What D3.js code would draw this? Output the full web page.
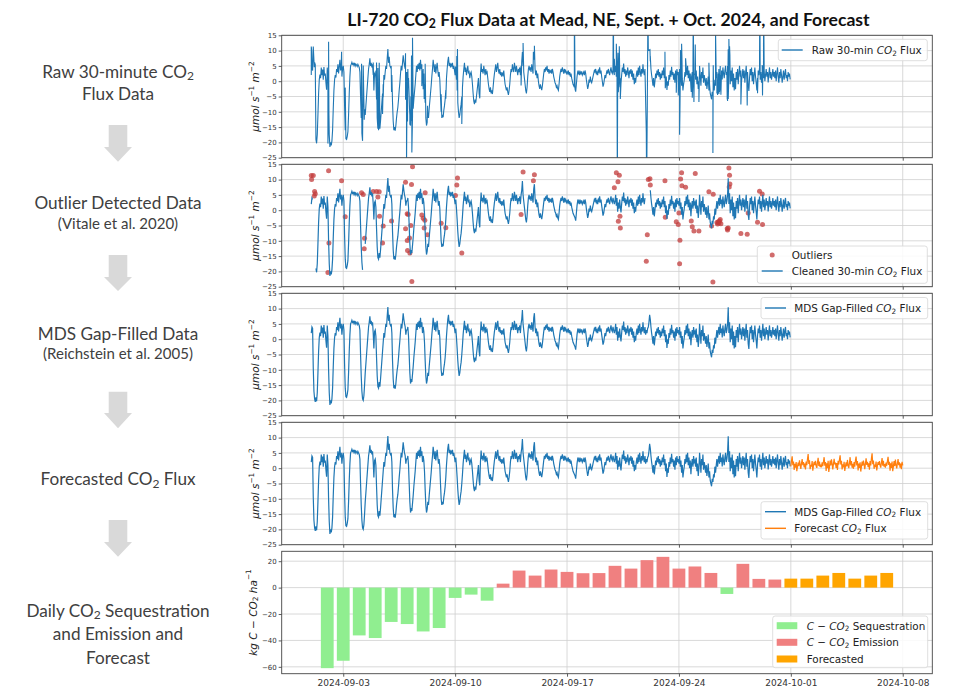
<!DOCTYPE html>
<html><head><meta charset="utf-8">
<script src="https://cdn.jsdelivr.net/npm/d3@7"></script>
<style>body{margin:0;background:#fff;} svg{display:block;}</style>
</head><body>
<svg id="c" width="954" height="689"></svg>
<script>
// ---------------- DATA ----------------
const seriesStart = "2024-09-01 00:00";   // first flux value (shown hourly)
// MDS gap-filled CO2 flux, hourly, one row per day (09-01 ... 09-30), µmol s-1 m-2
const gapFilledByDay = [
 [2.0,4.0,3.5,-9.5,-17.0,-19.5,-20.5,-19.0,-20.3,-17.5,-11.0,-4.0,0.5,2.2,1.0,4.5,2.0,3.8,0.5,4.6,1.8,2.5,-0.5,-2.8],
 [4.5,1.0,-10.0,-17.5,-21.5,-20.0,-21.0,-19.5,-16.0,-9.0,-3.0,0.5,2.0,1.2,4.0,3.0,5.5,2.5,4.8,7.0,3.5,5.0,1.5,4.0],
 [5.0,3.0,-8.0,-16.0,-18.8,-19.0,-18.0,-16.5,-11.0,-4.0,1.5,5.0,5.5,6.2,5.5,5.8,5.2,6.0,5.0,5.6,5.3,4.8,5.5,5.0],
 [4.5,3.0,-5.0,-12.0,-17.0,-19.5,-20.0,-18.5,-15.0,-11.0,-8.0,-5.0,-2.0,1.0,4.0,5.5,7.5,5.0,6.0,4.5,5.5,2.0,-3.0,2.5],
 [3.0,1.0,-6.0,-12.0,-15.5,-16.0,-14.0,-15.5,-13.0,-10.0,-7.0,-4.0,-1.0,2.0,0.5,3.0,5.0,4.0,7.5,10.5,6.0,8.0,5.0,4.5],
 [5.0,2.0,-7.0,-13.0,-16.0,-15.0,-16.2,-14.5,-12.0,-10.0,-8.5,-6.0,-3.0,-0.5,2.5,5.0,3.5,6.0,8.5,6.5,5.0,4.0,1.5,3.0],
 [3.0,4.0,1.0,-5.0,-11.0,-14.5,-13.0,-14.0,-11.5,-9.0,-6.0,-3.5,-1.0,2.0,5.0,3.0,5.5,4.0,6.0,3.5,7.0,4.0,5.5,2.0],
 [4.0,2.5,-1.0,-7.0,-12.0,-14.5,-13.5,-11.0,-12.0,-9.0,-6.5,-4.0,-1.5,1.5,4.0,7.0,5.0,3.0,5.5,2.5,4.5,6.0,3.5,1.5],
 [3.0,0.5,-5.0,-10.0,-12.0,-11.0,-11.8,-9.5,-8.0,-6.0,-3.0,1.0,4.0,6.5,8.0,5.0,6.0,4.5,5.5,5.0,6.0,4.0,5.0,3.5],
 [2.0,3.5,0.5,-3.0,-7.0,-10.0,-12.0,-11.0,-9.0,-7.5,-5.0,-2.0,1.5,4.0,6.0,3.0,4.5,2.0,3.5,5.0,2.5,3.0,1.0,2.5],
 [3.0,1.5,-1.0,-4.0,-6.5,-7.5,-6.0,-7.0,-5.0,-3.0,-1.0,1.0,-4.0,-5.6,2.0,5.8,3.0,4.0,2.5,5.0,3.5,2.0,4.0,2.6],
 [3.0,1.0,-1.0,-2.5,-3.5,-2.0,-4.0,-3.0,-4.2,-2.0,0.5,2.5,4.0,5.5,3.0,4.5,6.0,3.5,2.5,4.0,2.0,3.0,1.5,2.5],
 [2.0,3.5,1.0,-1.0,-2.0,-3.0,-2.0,-3.5,-4.5,-3.0,-1.0,2.0,4.0,3.0,5.5,4.0,3.0,6.0,4.5,3.0,5.0,3.5,2.0,4.0],
 [3.0,4.5,2.0,5.0,6.5,9.5,5.0,3.0,1.0,-1.0,-3.0,-4.0,-2.0,1.5,4.0,5.0,3.5,4.5,3.0,5.5,4.0,2.5,7.0,8.5],
 [4.0,2.0,3.5,1.0,2.5,0.0,-1.5,-2.5,-1.0,-2.0,-2.9,-1.5,0.5,2.5,4.0,3.0,4.5,3.5,5.0,3.0,4.0,2.5,3.5,3.0],
 [3.5,2.5,4.0,3.0,1.5,0.5,-0.5,-1.0,-2.0,-1.5,-2.5,-3.0,-1.0,1.5,3.0,4.0,3.0,4.5,3.5,2.5,4.0,3.0,3.5,2.5],
 [3.0,2.5,3.5,2.0,3.0,1.5,2.5,1.0,0.0,-1.0,-1.5,-2.0,-2.5,-3.4,-1.0,1.5,3.0,2.5,3.5,2.0,3.0,2.5,3.2,2.0],
 [2.5,3.0,2.0,3.5,2.5,0.5,-1.0,-2.5,-1.5,0.5,-0.5,1.5,0.0,-0.5,0.4,1.5,2.5,3.5,3.0,4.0,2.5,3.0,2.0,3.5],
 [3.0,4.5,2.5,3.5,1.5,0.0,-1.8,-1.0,0.5,2.0,1.0,2.5,3.5,2.5,4.0,3.0,2.0,3.5,4.5,3.0,2.5,4.0,3.0,2.0],
 [3.0,5.0,1.5,4.0,-0.5,2.5,0.5,3.5,1.0,-0.7,2.0,4.5,3.0,5.8,2.5,4.0,1.5,3.5,2.0,4.5,3.0,1.0,3.5,2.5],
 [4.0,1.5,3.5,0.5,2.5,-1.0,1.0,-0.5,2.0,3.5,1.5,4.5,2.0,5.0,3.0,1.5,4.0,2.5,5.5,3.0,2.0,4.0,1.5,3.0],
 [2.0,3.5,4.0,5.5,8.0,6.5,4.0,2.0,0.5,-1.5,1.0,-2.0,0.0,2.5,1.0,3.5,2.0,4.0,1.5,3.0,0.5,2.5,1.0,3.5],
 [2.0,4.5,1.0,3.0,-1.0,1.5,-2.9,0.0,-1.5,2.0,0.5,3.5,1.5,4.7,2.0,3.0,0.5,2.5,-0.5,3.5,1.0,4.0,2.0,3.0],
 [1.5,4.0,0.5,2.5,-1.5,1.0,-3.0,-1.0,0.5,3.0,1.5,4.5,2.0,5.0,1.0,3.5,0.0,2.5,-2.0,1.5,3.0,0.5,4.0,2.0],
 [2.5,0.5,3.5,-1.0,1.5,-2.5,0.0,5.0,2.0,-1.5,3.0,1.0,4.5,-0.5,2.0,0.5,-1.5,1.0,-2.5,-0.5,1.5,-3.0,-1.0,-4.0],
 [-5.0,-5.9,-3.5,-4.5,-2.0,-3.0,0.5,-1.5,1.0,3.0,0.5,2.5,4.0,1.5,5.0,2.0,3.5,0.6,4.5,2.5,1.0,3.5,5.0,2.0],
 [3.0,5.0,10.4,2.0,5.5,-1.0,3.5,0.0,4.5,-2.0,2.5,-3.0,1.0,-2.6,3.0,0.5,4.0,-1.0,2.5,5.0,1.5,3.5,0.0,2.0],
 [4.0,1.0,3.5,-0.5,2.5,5.0,0.5,3.0,-1.5,-3.2,1.0,4.0,2.0,4.5,0.0,3.0,-1.0,2.0,4.5,1.5,-0.5,-3.0,1.0,3.5],
 [2.0,4.5,0.5,3.0,-0.5,2.5,5.0,1.0,3.5,0.0,2.0,4.0,1.5,3.0,-0.4,2.5,4.5,1.0,3.0,0.5,2.0,4.0,1.5,3.0],
 [1.0,3.5,0.0,2.5,4.5,1.5,-0.5,3.0,1.0,4.0,2.0,-0.5,1.5,3.5,0.5,2.5,4.0,1.0,2.0,0.0,3.0,1.5,2.5,0.6]
];
// hours (since seriesStart) with no valid measurement
const missingHourRanges = [[3,6],[78,80],[502,508]];
// detected outliers: hour since seriesStart and value (values beyond ±25 fall off the axes)
const outlierHours = [0,0.5,3,4.5,5,6,25,26,26.5,45.5,51,75.5,78,79.5,80,93,98,100,102,102.5,107,108,120.5,
  141.5,141.6,143,144,144.1,144.5,145.5,147.5,148,149.5,150.5,151,152,166,168,169.5,170.5,171,174.5,195,202,
  216.5,218.5,219.5,226,315,318,333.5,335,395,453.5,455,458,459.5,460.5,461,462.5,463.5,464,503,503.5,504.5,
  505.5,506,508.5,509,531,531.5,548,551,552,553,553.5,554.5,556,556.5,562,570.5,572,573.5,574.5,576.5,582,
  597,601,603,603.5,607,609,610,611,612,613,614,615,624.5,625,626,627,627.5,628,628.5,645,654.5,656,670,
  673,673.5,677,677.5,679];
const outlierValues = [11.3,10.0,11.3,4.6,6.1,5.4,-20.4,12.9,-10.7,9.6,-2.1,5.7,5.1,-12.6,-9.2,6.1,6.1,4.3,6.0,-2.0,-10.7,-5.2,-3.5,
  9.1,-6.1,-28,-1.2,-9.9,-13.2,-1.4,-9.1,-14.0,-5.0,8.4,-23.3,14.2,-1.6,-2.6,-5.8,-3.3,5.7,-8.0,-4.3,-5.7,
  4.8,8.2,10.5,-14.0,-1.4,12.5,9.6,11.6,30,30,7.3,12.2,-35,9.3,-3.6,11.4,-2.0,-5.8,-16.7,-35,-8.0,
  25,10.0,10.3,8.2,9.6,-2.3,-3.8,-4.7,-0.9,-17.5,-9.8,10.2,12.2,8.0,7.5,-3.5,-5.4,25,-6.8,12.0,-6.8,
  6.0,-5.2,-23.5,5.2,16,-4.0,-4.5,-3.8,-4.2,-3.5,-3.0,-4.4,-6.0,-6.5,-5.8,13.8,7.6,11.4,8.6,-7.6,-7.9,-0.9,-3.9,
  6.2,30,5.3,-4.7,30];
// forecast CO2 flux, hourly from 2024-10-01 00:00, one row per day
const forecastStart = "2024-10-01 00:00";
const forecastByDay = [
 [0.6,2.4,3.9,1.0,2.2,-0.6,1.4,0.2,2.0,-1.0,0.6,1.8,0.7,2.6,1.2,-0.2,1.6,3.0,1.0,2.0,0.3,1.5,-0.4,2.2],
 [1.0,3.0,4.6,1.4,2.6,-0.3,1.1,0.5,2.3,-0.8,0.9,2.1,1.0,2.4,0.8,0.1,1.9,3.4,0.7,2.2,0.4,1.2,0.3,1.9],
 [0.7,2.2,3.6,0.8,2.0,-0.9,1.6,0.0,2.4,-1.2,0.4,2.5,0.9,2.9,1.4,-0.4,1.4,3.1,1.2,1.8,0.1,1.7,-0.6,2.4],
 [1.2,2.8,4.2,1.2,2.4,-0.4,1.3,0.3,2.1,-0.9,0.7,1.9,0.6,2.7,1.0,0.0,1.7,3.6,0.9,2.3,0.2,1.4,-0.2,2.0],
 [0.5,2.6,3.8,0.9,2.3,-0.7,1.5,0.1,1.9,-1.1,0.5,2.2,0.8,2.5,1.3,-0.3,1.5,3.2,1.1,2.1,0.4,1.6,-0.5,2.3],
 [0.9,3.2,4.9,1.3,2.5,-0.2,1.2,0.4,2.2,-0.7,0.8,2.0,1.1,2.3,0.9,0.2,1.8,3.3,0.8,2.4,0.5,1.3,0.2,1.8],
 [0.8,2.3,3.7,1.1,2.1,-0.8,1.6,0.1,2.2,-1.0,0.6,2.3,0.7,2.8,1.1,-0.1,1.6,3.0,1.0,1.9,0.2,1.5,-0.3,2.1],
 [0.9]
];
// daily C-CO2 balance (kg C-CO2 ha-1)
const dailyDates = ["2024-09-02","2024-09-03","2024-09-04","2024-09-05","2024-09-06","2024-09-07","2024-09-08",
  "2024-09-09","2024-09-10","2024-09-11","2024-09-12","2024-09-13","2024-09-14","2024-09-15","2024-09-16",
  "2024-09-17","2024-09-18","2024-09-19","2024-09-20","2024-09-21","2024-09-22","2024-09-23","2024-09-24",
  "2024-09-25","2024-09-26","2024-09-27","2024-09-28","2024-09-29","2024-09-30"];
const dailyValues = [-61.0,-55.4,-36.2,-38.2,-26.0,-27.6,-33.2,-30.6,-7.8,-5.3,-9.9,3.0,12.9,9.1,13.7,
  11.9,10.9,11.0,16.5,14.4,20.8,23.3,14.4,16.0,11.1,-4.8,18.0,6.6,6.1];
const forecastDates = ["2024-10-01","2024-10-02","2024-10-03","2024-10-04","2024-10-05","2024-10-06","2024-10-07"];
const forecastDailyValues = [6.8,6.8,9.1,11.1,6.8,9.1,11.1];
// axes
const xTickLabels = ["2024-09-03","2024-09-10","2024-09-17","2024-09-24","2024-10-01","2024-10-08"];
const fluxTicks = [-25,-20,-15,-10,-5,0,5,10,15];
const dailyTicks = [-60,-40,-20,0,20];
const xDomain = ["2024-08-30 03:36","2024-10-09 20:24"];
const fluxDomain = [-25,15];
const dailyDomain = [-65.2,27.5];

// ---------------- DRAWING ----------------
const svg = d3.select("#c");
const pDT = d3.utcParse("%Y-%m-%d %H:%M");
const pD = d3.utcParse("%Y-%m-%d");
const t0 = pDT(seriesStart), tf0 = pDT(forecastStart);
const hourToDate = (base, h) => new Date(base.getTime() + h * 3600e3);

const L = 281.7, R = 932.3, PH = 122.4;
const panelTop = i => 35.3 + 129 * i;
const x = d3.scaleUtc().domain(xDomain.map(pDT)).range([L, R]);
const tickDates = xTickLabels.map(pD);
const fmtNum = d => d < 0 ? "\u2212" + Math.abs(d) : "" + d;
const FONT = "'DejaVu Sans', sans-serif";
const blue = "#1f77b4", orange = "#ff7f0e", outC = "#c23b3b";

function rich(t, parts) {
  let shift = 0;
  parts.forEach(p => {
    const ts = t.append("tspan").text(p.t);
    if (p.i) ts.attr("font-style", "italic");
    if (p.sub) { ts.attr("font-size", "0.7em").attr("dy", (0.245 - shift) / 0.7 + "em"); shift = 0.245; }
    else if (p.sup) { ts.attr("font-size", "0.7em").attr("dy", (-0.42 - shift) / 0.7 + "em"); shift = -0.42; }
    else if (shift !== 0) { ts.attr("dy", (-shift) + "em"); shift = 0; }
  });
  return t;
}

const gap = gapFilledByDay.flat();
const isMissing = h => missingHourRanges.some(r => h >= r[0] && h <= r[1]);
const gapPts = gap.map((v, h) => ({ d: hourToDate(t0, h), v }));
const cleanPts = gap.map((v, h) => ({ d: hourToDate(t0, h), v: isMissing(h) ? NaN : v }));
const outPts = outlierHours.map((h, i) => ({ h, d: hourToDate(t0, h), v: outlierValues[i] }));
const rawPts = gap.map((v, h) => ({ h, d: hourToDate(t0, h), v })).filter(p => !isMissing(p.h))
  .concat(outPts).sort((a, b) => a.h - b.h);
const fc = forecastByDay.flat().map((v, h) => ({ d: hourToDate(tf0, h), v }));

function panel(i, yDomain, yTicks, showX) {
  const y0 = panelTop(i);
  const y = d3.scaleLinear().domain(yDomain).range([y0 + PH, y0]);
  const g = svg.append("g");
  g.append("clipPath").attr("id", "clip" + i).append("rect")
    .attr("x", L).attr("y", y0).attr("width", R - L).attr("height", PH);
  g.append("g").selectAll("line").data(tickDates).join("line")
    .attr("x1", d => x(d)).attr("x2", d => x(d)).attr("y1", y0).attr("y2", y0 + PH)
    .attr("stroke", "#cfcfcf").attr("stroke-width", 0.8);
  g.append("g").selectAll("line").data(yTicks).join("line")
    .attr("x1", L).attr("x2", R).attr("y1", d => y(d)).attr("y2", d => y(d))
    .attr("stroke", "#cfcfcf").attr("stroke-width", 0.8);
  const ya = g.append("g").attr("transform", `translate(${L},0)`)
    .call(d3.axisLeft(y).tickValues(yTicks).tickSize(3).tickPadding(2).tickFormat(fmtNum));
  ya.select(".domain").remove();
  ya.selectAll("text").attr("font-family", FONT).attr("font-size", 7).attr("fill", "#333");
  ya.selectAll("line").attr("stroke", "#333").attr("stroke-width", 0.8);
  const xa = g.append("g").attr("transform", `translate(0,${y0 + PH})`)
    .call(d3.axisBottom(x).tickValues(tickDates).tickSize(3).tickPadding(3)
      .tickFormat(showX ? d3.utcFormat("%Y-%m-%d") : () => ""));
  xa.select(".domain").remove();
  xa.selectAll("text").attr("font-family", FONT).attr("font-size", 9).attr("fill", "#333");
  xa.selectAll("line").attr("stroke", "#333").attr("stroke-width", 0.8);
  const plot = g.append("g").attr("clip-path", `url(#clip${i})`);
  return { g, y, plot, y0 };
}
function frame(p) {
  p.g.append("rect").attr("x", L).attr("y", p.y0).attr("width", R - L).attr("height", PH)
    .attr("fill", "none").attr("stroke", "#444").attr("stroke-width", 0.9);
}
function ylabel(p, parts, cx) {
  const t = p.g.append("text").attr("font-family", FONT).attr("font-size", 10.5).attr("fill", "#222")
    .attr("text-anchor", "middle").attr("dominant-baseline", "central")
    .attr("transform", `translate(${cx},${p.y0 + PH / 2}) rotate(-90)`);
  rich(t, parts);
}
const fluxLabel = [{ t: "\u03bcmol s", i: true }, { t: "\u22121", sup: true }, { t: " m", i: true }, { t: "\u22122", sup: true }];
const co2 = (pre, post) => [{ t: pre }, { t: "CO", i: true }, { t: "2", sub: true }, { t: post }];

function legend(p, box, rows) {
  const g = p.g.append("g");
  g.append("rect").attr("x", box[0]).attr("y", box[1]).attr("width", box[2] - box[0]).attr("height", box[3] - box[1])
    .attr("rx", 2.5).attr("fill", "#fff").attr("fill-opacity", 0.85).attr("stroke", "#d5d5d5").attr("stroke-width", 0.8);
  rows.forEach(r => {
    if (r.type === "line") g.append("line").attr("x1", r.hx).attr("x2", r.hx + 21).attr("y1", r.y).attr("y2", r.y)
      .attr("stroke", r.color).attr("stroke-width", 1.4);
    else if (r.type === "dot") g.append("circle").attr("cx", r.hx + 10.5).attr("cy", r.y).attr("r", 2.5)
      .attr("fill", r.color).attr("fill-opacity", 0.75);
    else g.append("rect").attr("x", r.hx).attr("y", r.y - 3.5).attr("width", 20.6).attr("height", 7).attr("fill", r.color);
    const t = g.append("text").attr("x", r.tx).attr("y", r.y).attr("dominant-baseline", "central")
      .attr("font-family", FONT).attr("font-size", 10.4).attr("fill", "#222");
    rich(t, r.parts);
  });
}

// Panel 1: raw
const p1 = panel(0, fluxDomain, fluxTicks, false);
p1.plot.append("path").datum(rawPts).attr("fill", "none").attr("stroke", blue).attr("stroke-width", 1.1)
  .attr("d", d3.line().x(d => x(d.d)).y(d => p1.y(d.v)));
frame(p1); ylabel(p1, fluxLabel, 255);
legend(p1, [778.3, 39.3, 927.3, 60.7], [{ type: "line", hx: 781.7, y: 50, tx: 811.7, color: blue, parts: co2("Raw 30-min ", " Flux") }]);

// Panel 2: outliers + cleaned
const p2 = panel(1, fluxDomain, fluxTicks, false);
p2.plot.append("g").selectAll("circle").data(outPts).join("circle")
  .attr("cx", d => x(d.d)).attr("cy", d => p2.y(d.v)).attr("r", 2.5)
  .attr("fill", outC).attr("fill-opacity", 0.75);
p2.plot.append("path").datum(cleanPts).attr("fill", "none").attr("stroke", blue).attr("stroke-width", 1.2)
  .attr("d", d3.line().defined(d => !isNaN(d.v)).x(d => x(d.d)).y(d => p2.y(d.v)));
frame(p2); ylabel(p2, fluxLabel, 255);
legend(p2, [757.3, 246, 927.3, 283.3], [
  { type: "dot", hx: 761.7, y: 255, tx: 791.7, color: outC, parts: [{ t: "Outliers" }] },
  { type: "line", hx: 761.7, y: 271, tx: 791.7, color: blue, parts: co2("Cleaned 30-min ", " Flux") }]);

// Panel 3: gap-filled
const p3 = panel(2, fluxDomain, fluxTicks, false);
p3.plot.append("path").datum(gapPts).attr("fill", "none").attr("stroke", blue).attr("stroke-width", 1.2)
  .attr("d", d3.line().x(d => x(d.d)).y(d => p3.y(d.v)));
frame(p3); ylabel(p3, fluxLabel, 255);
legend(p3, [761, 297.5, 927.7, 318.7], [{ type: "line", hx: 765, y: 308, tx: 794.3, color: blue, parts: co2("MDS Gap-Filled ", " Flux") }]);

// Panel 4: gap-filled + forecast
const p4 = panel(3, fluxDomain, fluxTicks, false);
p4.plot.append("path").datum(gapPts).attr("fill", "none").attr("stroke", blue).attr("stroke-width", 1.2)
  .attr("d", d3.line().x(d => x(d.d)).y(d => p4.y(d.v)));
p4.plot.append("path").datum(fc).attr("fill", "none").attr("stroke", orange).attr("stroke-width", 1.2)
  .attr("d", d3.line().x(d => x(d.d)).y(d => p4.y(d.v)));
frame(p4); ylabel(p4, fluxLabel, 255);
legend(p4, [761, 501.7, 927.7, 539], [
  { type: "line", hx: 765, y: 511.7, tx: 794.3, color: blue, parts: co2("MDS Gap-Filled ", " Flux") },
  { type: "line", hx: 765, y: 528.3, tx: 794.3, color: orange, parts: co2("Forecast ", " Flux") }]);

// Panel 5: daily bars
const p5 = panel(4, dailyDomain, dailyTicks, true);
const dayMs = 864e5;
const bars = dailyDates.map((d, i) => ({ d: pD(d), v: dailyValues[i], f: false }))
  .concat(forecastDates.map((d, i) => ({ d: pD(d), v: forecastDailyValues[i], f: true })));
p5.plot.append("g").selectAll("rect").data(bars).join("rect")
  .attr("x", d => x(new Date(d.d.getTime() - 0.4 * dayMs)))
  .attr("width", d => x(new Date(d.d.getTime() + 0.4 * dayMs)) - x(new Date(d.d.getTime() - 0.4 * dayMs)))
  .attr("y", d => p5.y(Math.max(0, d.v))).attr("height", d => Math.abs(p5.y(d.v) - p5.y(0)))
  .attr("fill", d => d.f ? "#ffa500" : (d.v < 0 ? "#90ee90" : "#f08080"));
frame(p5);
ylabel(p5, [{ t: "kg C \u2212 CO", i: true }, { t: "2", sub: true }, { t: " ha", i: true }, { t: "\u22121", sup: true }], 252.5);
legend(p5, [772.7, 616, 927.7, 667.7], [
  { type: "patch", hx: 776.7, y: 625.7, tx: 806.7, color: "#90ee90", parts: [{ t: "C \u2212 CO", i: true }, { t: "2", sub: true }, { t: " Sequestration" }] },
  { type: "patch", hx: 776.7, y: 642.3, tx: 806.7, color: "#f08080", parts: [{ t: "C \u2212 CO", i: true }, { t: "2", sub: true }, { t: " Emission" }] },
  { type: "patch", hx: 776.7, y: 659, tx: 806.7, color: "#ffa500", parts: [{ t: "Forecasted" }] }]);

// Title
const SANS = "Lato, 'Open Sans', sans-serif";
const title = svg.append("text").attr("x", 608.5).attr("y", 19).attr("text-anchor", "middle")
  .attr("dominant-baseline", "central").attr("font-family", SANS).attr("font-weight", "bold")
  .attr("font-size", 17).attr("fill", "#111");
rich(title, [{ t: "LI-720 CO" }, { t: "2", sub: true }, { t: " Flux Data at Mead, NE, Sept. + Oct. 2024, and Forecast" }]);
function fit(t, target) { const w = t.node().getBBox().width; t.attr("font-size", parseFloat(t.attr("font-size")) * target / w); }
fit(title, 523);

// Left-side workflow
const sideX = 118;
const mainLines = [
  { y: 70.7, parts: [{ t: "Raw 30-minute CO" }, { t: "2", sub: true }] },
  { y: 93.3, parts: [{ t: "Flux Data" }] },
  { y: 201.7, parts: [{ t: "Outlier Detected Data" }] },
  { y: 333.3, parts: [{ t: "MDS Gap-Filled Data" }], ref: 160.7 },
  { y: 478.3, parts: [{ t: "Forecasted CO" }, { t: "2", sub: true }, { t: " Flux" }] },
  { y: 610, parts: [{ t: "Daily CO" }, { t: "2", sub: true }, { t: " Sequestration" }] },
  { y: 633.3, parts: [{ t: "and Emission and" }] },
  { y: 656.7, parts: [{ t: "Forecast" }] }];
const smallLines = [
  { y: 222.7, parts: [{ t: "(Vitale et al. 2020)" }] },
  { y: 353.3, parts: [{ t: "(Reichstein et al. 2005)" }], ref: 150 }];
function side(lines, fs) {
  const ts = lines.map(l => rich(svg.append("text").attr("x", sideX).attr("y", l.y).attr("text-anchor", "middle")
    .attr("dominant-baseline", "central").attr("font-family", SANS).attr("font-size", fs).attr("fill", "#404040"), l.parts));
  const ri = lines.findIndex(l => l.ref);
  const w = ts[ri].node().getBBox().width;
  const nf = fs * lines[ri].ref / w;
  ts.forEach(t => t.attr("font-size", nf));
}
side(mainLines, 16); side(smallLines, 12);

// arrows
const arrows = [[125, 147, 161.7], [255, 277, 291], [391.7, 413, 428.3], [520, 542, 556.7]];
svg.append("g").selectAll("path").data(arrows).join("path")
  .attr("d", a => `M${sideX - 9.3},${a[0]}L${sideX + 9.3},${a[0]}L${sideX + 9.3},${a[1]}L${sideX + 14},${a[1]}L${sideX},${a[2]}L${sideX - 14},${a[1]}L${sideX - 9.3},${a[1]}Z`)
  .attr("fill", "#d9d9d9");
</script>
</body></html>
